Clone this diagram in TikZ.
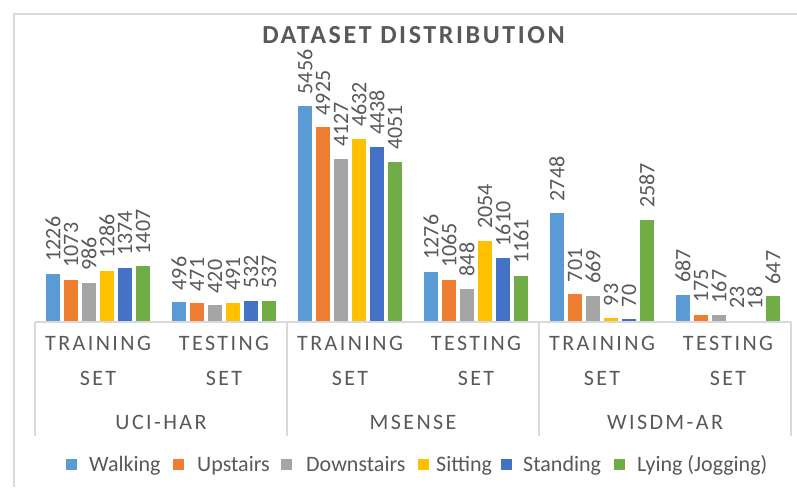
\documentclass[tikz,border=0pt]{standalone}
\usepackage{fontspec}
\setmainfont{Carlito}
\newfontfamily\axisfont[LetterSpace=11]{Carlito}
\newfontfamily\titlefont[LetterSpace=10]{Carlito}
\definecolor{ser0}{HTML}{5B9BD5}
\definecolor{ser1}{HTML}{ED7D31}
\definecolor{ser2}{HTML}{A5A5A5}
\definecolor{ser3}{HTML}{FFC000}
\definecolor{ser4}{HTML}{4472C4}
\definecolor{ser5}{HTML}{70AD47}
\definecolor{txtgray}{HTML}{595959}
\definecolor{rulegray}{HTML}{D9D9D9}
\tikzset{
  frameline/.style={draw=rulegray, line width=1.5pt},
  axisline/.style={draw=rulegray, line width=1.2pt},
  vallabel/.style={rotate=90, anchor=west, inner sep=0pt, text=txtgray,
    font=\fontsize{22}{26}\selectfont},
  catlabel/.style={anchor=base, inner sep=0pt, text=txtgray,
    font=\axisfont\fontsize{22}{26}\selectfont},
  legtext/.style={anchor=base west, inner sep=0pt, text=txtgray,
    font=\fontsize{22}{26}\selectfont},
  titletext/.style={anchor=base, inner sep=0pt, text=txtgray,
    font=\titlefont\bfseries\fontsize{26}{31}\selectfont},
}
\begin{document}
\begin{tikzpicture}[x=1pt, y=-1pt]
\useasboundingbox (0,0) rectangle (797,487);
\fill[white] (0,0) rectangle (797,487);
% chart area border
\draw[frameline] (14,487) -- (14,14) -- (797,14);
% title
\node[titletext] (title) at (413.5,43.3) {DATASET DISTRIBUTION};
% bars with value labels
\foreach \c/\vals in {0/{1226,1073,986,1286,1374,1407},
                      1/{496,471,420,491,532,537},
                      2/{5456,4925,4127,4632,4438,4051},
                      3/{1276,1065,848,2054,1610,1161},
                      4/{2748,701,669,93,70,2587},
                      5/{687,175,167,23,18,647}}{
  \foreach \v [count=\i from 0] in \vals {
    \pgfmathsetmacro{\xl}{35+126*\c+11+18*\i}
    \pgfmathsetmacro{\yt}{322-0.0395*\v}
    \fill[ser\i] (\xl,322) rectangle ({\xl+14},\yt);
    \node[vallabel] (val-\c-\i) at ({\xl+7},{\yt-12}) {\v};
  }
}
% category axis
\draw[axisline] (35,322) -- (791,322);
\foreach \xx in {35,287,539,791}
  \draw[axisline] (\xx,322) -- (\xx,436);
\foreach \c/\name in {0/TRAINING,1/TESTING,2/TRAINING,3/TESTING,4/TRAINING,5/TESTING}{
  \node[catlabel] (cat-\c) at ({98+126*\c},350.7) {\name};
  \node[catlabel] (set-\c) at ({98+126*\c},385) {SET};
}
\node[catlabel] (grp-uci) at (161,429.5) {UCI-HAR};
\node[catlabel] (grp-msense) at (413,429.5) {MSENSE};
\node[catlabel] (grp-wisdm) at (665,429.5) {WISDM-AR};
% legend
\foreach \i/\sx/\tx/\name in {0/66/89/Walking,1/173/197/Upstairs,2/281/306/Downstairs,
                               3/418/436/Sitting,4/501/523/Standing,5/614/637/Lying (Jogging)}{
  \fill[ser\i] (\sx,459) rectangle ({\sx+11},470);
  \node[legtext] (leg-\i) at (\tx,471.5) {\name};
}
\end{tikzpicture}
\end{document}
